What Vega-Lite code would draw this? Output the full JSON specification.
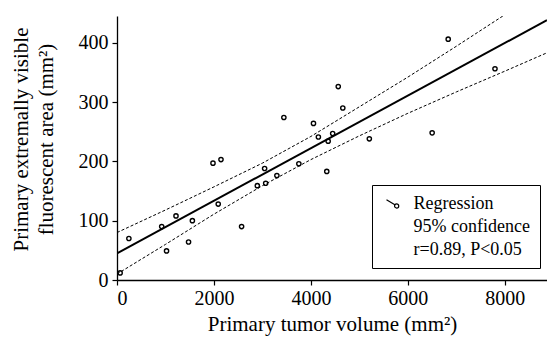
{
  "$schema": "https://vega.github.io/schema/vega-lite/v6.json",
  "width": 430,
  "height": 264,
  "autosize": {"type": "none"},
  "padding": {"left": 117, "top": 16, "right": 0, "bottom": 58},
  "background": "white",
  "config": {
    "font": "Liberation Serif",
    "view": {"stroke": null},
    "axis": {
      "domainColor": "black",
      "domainWidth": 1.3,
      "tickColor": "black",
      "tickWidth": 1.2,
      "tickSize": 5,
      "grid": false,
      "labelFont": "Liberation Serif",
      "labelFontSize": 20,
      "labelColor": "black",
      "titleFont": "Liberation Serif",
      "titleFontSize": 21,
      "titleFontWeight": "normal",
      "titleColor": "black"
    }
  },
  "datasets": {
    "pts": [
      {"volume": 65, "area": 12, "grp": "Regression"},
      {"volume": 245, "area": 70, "grp": "Regression"},
      {"volume": 922, "area": 90, "grp": "Regression"},
      {"volume": 1022, "area": 49, "grp": "Regression"},
      {"volume": 1217, "area": 108, "grp": "Regression"},
      {"volume": 1476, "area": 64, "grp": "Regression"},
      {"volume": 1555, "area": 100, "grp": "Regression"},
      {"volume": 1980, "area": 197, "grp": "Regression"},
      {"volume": 2145, "area": 203, "grp": "Regression"},
      {"volume": 2088, "area": 128, "grp": "Regression"},
      {"volume": 2570, "area": 90, "grp": "Regression"},
      {"volume": 2894, "area": 159, "grp": "Regression"},
      {"volume": 3045, "area": 188, "grp": "Regression"},
      {"volume": 3067, "area": 163, "grp": "Regression"},
      {"volume": 3298, "area": 176, "grp": "Regression"},
      {"volume": 3442, "area": 274, "grp": "Regression"},
      {"volume": 3751, "area": 196, "grp": "Regression"},
      {"volume": 4053, "area": 264, "grp": "Regression"},
      {"volume": 4154, "area": 241, "grp": "Regression"},
      {"volume": 4327, "area": 183, "grp": "Regression"},
      {"volume": 4356, "area": 234, "grp": "Regression"},
      {"volume": 4449, "area": 247, "grp": "Regression"},
      {"volume": 4564, "area": 326, "grp": "Regression"},
      {"volume": 4658, "area": 290, "grp": "Regression"},
      {"volume": 5205, "area": 238, "grp": "Regression"},
      {"volume": 6501, "area": 248, "grp": "Regression"},
      {"volume": 6832, "area": 406, "grp": "Regression"},
      {"volume": 7797, "area": 356, "grp": "Regression"}
    ],
    "fit": [
      {"volume": 0, "area": 45},
      {"volume": 8870, "area": 438}
    ],
    "band": [
      {"volume": 0, "area": 80, "side": "upper"},
      {"volume": 1000, "area": 118, "side": "upper"},
      {"volume": 2000, "area": 157, "side": "upper"},
      {"volume": 3000, "area": 197, "side": "upper"},
      {"volume": 4000, "area": 242, "side": "upper"},
      {"volume": 5000, "area": 292, "side": "upper"},
      {"volume": 6000, "area": 342, "side": "upper"},
      {"volume": 7000, "area": 394, "side": "upper"},
      {"volume": 7960, "area": 445, "side": "upper"},
      {"volume": 0, "area": 10, "side": "lower"},
      {"volume": 1000, "area": 60, "side": "lower"},
      {"volume": 2000, "area": 111, "side": "lower"},
      {"volume": 3000, "area": 159, "side": "lower"},
      {"volume": 4000, "area": 203, "side": "lower"},
      {"volume": 5000, "area": 243, "side": "lower"},
      {"volume": 6000, "area": 281, "side": "lower"},
      {"volume": 7000, "area": 317, "side": "lower"},
      {"volume": 8000, "area": 352, "side": "lower"},
      {"volume": 8870, "area": 383, "side": "lower"}
    ]
  },
  "encoding": {
    "x": {
      "field": "volume",
      "type": "quantitative",
      "scale": {"domain": [0, 8870], "nice": false, "zero": false},
      "axis": {
        "values": [0, 2000, 4000, 6000, 8000],
        "format": "d",
        "labelFont": "Liberation Serif",
        "labelPadding": 3,
        "titlePadding": 5,
        "title": "Primary tumor volume (mm²)"
      }
    },
    "y": {
      "field": "area",
      "type": "quantitative",
      "scale": {"domain": [0, 445], "nice": false, "zero": false},
      "axis": {
        "values": [0, 100, 200, 300, 400],
        "format": "d",
        "labelFont": "Liberation Serif",
        "labelPadding": 4,
        "title": ["Primary extremally visible", "fluorescent area (mm²)"],
        "titleX": -96,
        "titleY": 123,
        "titleBaseline": "middle",
        "titleLineHeight": 25
      }
    }
  },
  "layer": [
    {
      "data": {"name": "band"},
      "mark": {"type": "line", "color": "black", "strokeWidth": 1, "strokeDash": [3, 2], "clip": true},
      "encoding": {"detail": {"field": "side"}}
    },
    {
      "data": {"name": "fit"},
      "mark": {"type": "line", "color": "black", "strokeWidth": 2, "clip": true},
      "encoding": {}
    },
    {
      "data": {"name": "pts"},
      "mark": {"type": "point", "filled": false, "size": 18, "strokeWidth": 1.4, "opacity": 1},
      "encoding": {
        "color": {
          "field": "grp",
          "type": "nominal",
          "scale": {
            "domain": ["Regression", "95% confidence", "r=0.89, P<0.05"],
            "range": ["black", "transparent", "transparent"]
          },
          "legend": {
            "title": null,
            "orient": "none",
            "legendX": 255,
            "legendY": 169,
            "symbolType": "M-1,-0.55L0.195,0.192M0.75,0.35A0.3,0.3 0 1 1 0.15,0.35A0.3,0.3 0 1 1 0.75,0.35",
            "symbolSize": 196,
            "symbolStrokeWidth": 1.2,
            "symbolOffset": 3,
            "labelFont": "Liberation Serif",
            "labelFontSize": 18,
            "labelColor": "black",
            "labelLimit": 300,
            "labelOffset": 11,
            "rowPadding": 5,
            "padding": 9.5,
            "strokeColor": "black",
            "fillColor": "white",
            "encode": {"legend": {"update": {"strokeWidth": {"value": 1.3}}}}
          }
        }
      }
    }
  ]
}
